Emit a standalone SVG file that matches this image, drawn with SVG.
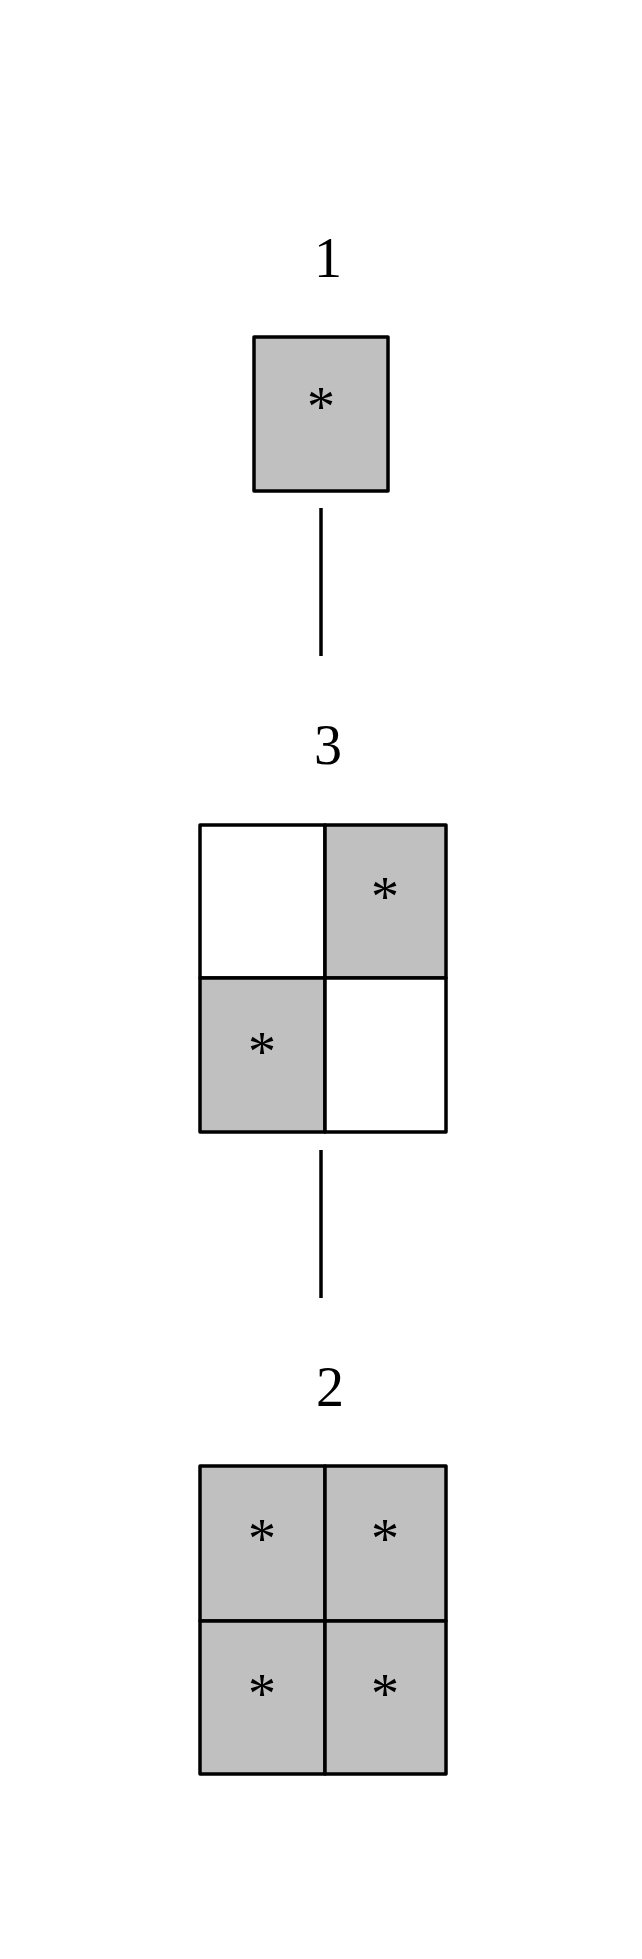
<svg xmlns="http://www.w3.org/2000/svg" width="642" height="1959" viewBox="0 0 642 1959">
<style>
.cell{stroke:#000;stroke-width:3.5;stroke-linejoin:round}
.g{fill:#c0c0c0}
.w{fill:#fff}
.lbl{font-family:"Liberation Serif","Times New Roman",serif;font-size:56px;text-anchor:middle;fill:#000}
.ast{font-family:"Liberation Serif","Times New Roman",serif;font-size:56px;text-anchor:middle;fill:#000}
.edge{stroke:#000;stroke-width:3.5;fill:none}
</style>
<rect width="642" height="1959" fill="#fff"/>
<g id="connectors">
<line class="edge" x1="321" y1="508" x2="321" y2="656"/>
<line class="edge" x1="321" y1="1150" x2="321" y2="1298"/>
</g>
<g id="node1">
<text class="lbl" x="328" y="277">1</text>
<rect class="cell g" x="254" y="337" width="134" height="154"/>
<text class="ast" x="321" y="426">*</text>
</g>
<g id="node3">
<text class="lbl" x="328" y="764">3</text>
<rect class="cell w" x="200" y="825" width="125" height="153"/>
<rect class="cell g" x="325" y="825" width="121" height="153"/>
<rect class="cell g" x="200" y="978" width="125" height="154"/>
<rect class="cell w" x="325" y="978" width="121" height="154"/>
<text class="ast" x="385" y="916">*</text>
<text class="ast" x="262" y="1071">*</text>
</g>
<g id="node2">
<text class="lbl" x="330" y="1406">2</text>
<rect class="cell g" x="200" y="1466" width="125" height="155"/>
<rect class="cell g" x="325" y="1466" width="121" height="155"/>
<rect class="cell g" x="200" y="1621" width="125" height="153"/>
<rect class="cell g" x="325" y="1621" width="121" height="153"/>
<text class="ast" x="262" y="1558">*</text>
<text class="ast" x="385" y="1558">*</text>
<text class="ast" x="262" y="1713">*</text>
<text class="ast" x="385" y="1713">*</text>
</g>
</svg>
